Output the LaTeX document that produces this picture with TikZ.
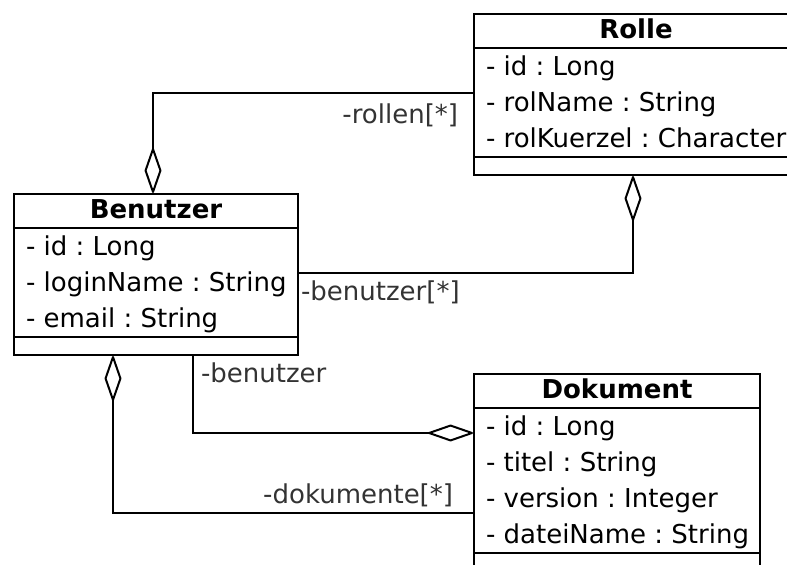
\documentclass[tikz,border=0pt]{standalone}
\usepackage{fontspec}
\setmainfont{DejaVu Sans}
\usetikzlibrary{arrows.meta,calc}
\definecolor{lbl}{HTML}{333333}
\frenchspacing
\begin{document}
\begin{tikzpicture}[x=0.5pt,y=-0.5pt, line width=1pt,
  every node/.append style={font=\fontsize{13pt}{16pt}\selectfont},
  box/.style={draw, fill=white, rectangle, inner sep=0pt, anchor=north west},
  head/.style={font=\fontsize{13pt}{16pt}\selectfont\bfseries, anchor=base, inner sep=0pt},
  attr/.style={anchor=base west, inner sep=0pt},
  role/.style={text=lbl, inner sep=0pt},
  agg/.style={-{Diamond[open, round, length=24.5pt, width=8.5pt]}}]
\useasboundingbox (0,0) rectangle (787,565);
\clip (0,0) rectangle (787,565);

% class Rolle
\node[box, minimum width=162pt, minimum height=80.5pt] (rolle) at (473,13) {};
\draw ($(rolle.north west)+(0,35)$) -- ($(rolle.north east)+(0,35)$);
\draw ($(rolle.north west)+(0,144)$) -- ($(rolle.north east)+(0,144)$);
\node[head] (rolle-h) at ($(rolle.north)+(0,26)$) {Rolle};
\node[attr] (rolle-a1) at ($(rolle.north west)+(12,62.5)$) {- id : Long};
\node[attr] (rolle-a2) at ($(rolle.north west)+(12,98.5)$) {- rolName : String};
\node[attr] (rolle-a3) at ($(rolle.north west)+(12,134.5)$) {- rolKuerzel : Character};

% class Benutzer
\node[box, minimum width=142pt, minimum height=80.5pt] (ben) at (13,193) {};
\draw ($(ben.north west)+(0,35.5)$) -- ($(ben.north east)+(0,35.5)$);
\draw ($(ben.north west)+(0,144)$) -- ($(ben.north east)+(0,144)$);
\node[head] (ben-h) at ($(ben.north)+(0,26)$) {Benutzer};
\node[attr] (ben-a1) at ($(ben.north west)+(12,62.5)$) {- id : Long};
\node[attr] (ben-a2) at ($(ben.north west)+(12,98.5)$) {- loginName : String};
\node[attr] (ben-a3) at ($(ben.north west)+(12,134.5)$) {- email : String};

% class Dokument
\node[box, minimum width=143pt, minimum height=98.5pt] (dok) at (473,373) {};
\draw ($(dok.north west)+(0,35)$) -- ($(dok.north east)+(0,35)$);
\draw ($(dok.north west)+(0,180)$) -- ($(dok.north east)+(0,180)$);
\node[head] (dok-h) at ($(dok.north)+(0,26)$) {Dokument};
\node[attr] (dok-a1) at ($(dok.north west)+(12,62.5)$) {- id : Long};
\node[attr] (dok-a2) at ($(dok.north west)+(12,98.5)$) {- titel : String};
\node[attr] (dok-a3) at ($(dok.north west)+(12,134.5)$) {- version : Integer};
\node[attr] (dok-a4) at ($(dok.north west)+(12,170.5)$) {- dateiName : String};

% attachment points
\coordinate (r1) at ($(rolle.north west)+(0,80)$);
\coordinate (b1) at ($(ben.north west)+(140,0)$);
\coordinate (r2) at ($(rolle.south west)+(160,0)$);
\coordinate (b2) at ($(ben.north east)+(0,80)$);
\coordinate (b3) at ($(ben.south west)+(180,0)$);
\coordinate (d3) at ($(dok.north west)+(0,60)$);
\coordinate (b4) at ($(ben.south west)+(100,0)$);
\coordinate (d4) at ($(dok.north west)+(0,140)$);

% aggregations
\draw[agg] (r1) -| (b1);
\draw[agg] (b2) -| (r2);
\draw[agg] (b3) |- (d3);
\draw[agg] (d4) -| (b4);

% role names
\node[role, anchor=base east] (l-rollen) at (459,123.5) {-rollen[*]};
\node[role, anchor=base west] (l-benutzer-m) at (300,300.5) {-benutzer[*]};
\node[role, anchor=base west] (l-benutzer) at (200,382.5) {-benutzer};
\node[role, anchor=base east] (l-dok) at (454,503.5) {-dokumente[*]};
\end{tikzpicture}
\end{document}
